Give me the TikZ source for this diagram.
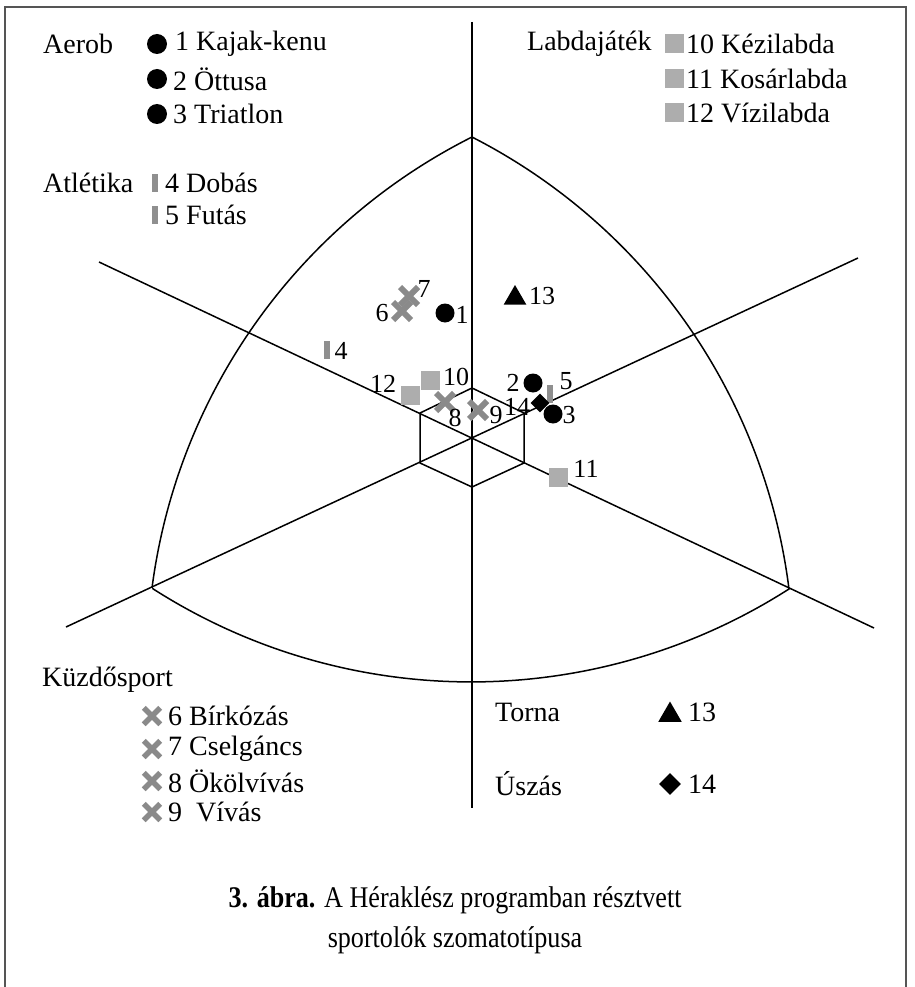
\documentclass[tikz,border=0pt]{standalone}
\usepackage{fontspec}
\setmainfont{Liberation Serif}
\usepackage{graphicx}
\usetikzlibrary{shapes.geometric,shapes.misc}
\definecolor{crossgray}{HTML}{8A8A8A}
\definecolor{bargray}{HTML}{8F8F8F}
\definecolor{sqgray}{HTML}{ADADAD}
\definecolor{framegray}{HTML}{555555}
\begin{document}
\begin{tikzpicture}[x=1pt,y=-1pt,
  lgd/.style={anchor=west, inner sep=0pt, font=\fontsize{28}{34}\selectfont},
  lbl/.style={inner sep=0pt, font=\fontsize{26}{30}\selectfont},
  dotmark/.style={circle, fill=black, minimum size=19pt, inner sep=0pt},
  sqmark/.style={rectangle, fill=sqgray, minimum size=19pt, inner sep=0pt},
  barmark/.style={rectangle, fill=bargray, minimum width=6pt, minimum height=18pt, inner sep=0pt},
  xmark/.style={cross out, draw=crossgray, line width=6pt, minimum size=12pt, inner sep=0pt},
  trimark/.style={regular polygon, regular polygon sides=3, fill=black, minimum size=26pt, inner sep=0pt},
  diamark/.style={diamond, fill=black, minimum size=19pt, inner sep=0pt},
  axis/.style={line width=1.5pt, black},
]
\fill[white] (0,0) rectangle (914,987);
\useasboundingbox (0,0) rectangle (914,987);
% frame
\draw[framegray, line width=1.1pt] (5,987) -- (5,7) -- (906,7) -- (906,987);
% coordinates
\coordinate (C) at (472,438);
\coordinate (Vt) at (472,22);
\coordinate (Vb) at (472,808);
\coordinate (ULe) at (99,262);
\coordinate (LRe) at (874,628);
\coordinate (LLe) at (66,627);
\coordinate (URe) at (858,258);
\coordinate (T) at (472,137);
\coordinate (L) at (152,588);
\coordinate (R) at (789,589);
\coordinate (H1) at (472,388);
\coordinate (H2) at (420,413);
\coordinate (H3) at (420,463);
\coordinate (H4) at (472,487);
\coordinate (H5) at (524,463);
\coordinate (H6) at (524,413);
% axes
\draw[axis] (Vt) -- (Vb);
\draw[axis] (ULe) -- (LRe);
\draw[axis] (LLe) -- (URe);
\draw[axis] (H1) -- (H2) -- (H3) -- (H4) -- (H5) -- (H6) -- cycle;
% outer curved triangle
\draw[axis] (L) arc[start angle=187.41, end angle=243.3, radius=590]
  arc[start angle=-62.94, end angle=-7.15, radius=590]
  arc[start angle=57.4, end angle=122.7, radius=590];
% data points
\node[xmark] (p7) at (409,296) {};
\node[lbl] (l7) at (424,289) {7};
\node[xmark] (p6) at (402,311) {};
\node[lbl] (l6) at (382,313) {6};
\node[dotmark] (p1) at (445,313) {};
\node[lbl] (l1) at (462,315) {1};
\node[trimark] (p13) at (515,298) {};
\node[lbl] (l13) at (542,296) {13};
\node[barmark] (p4) at (327,350) {};
\node[lbl] (l4) at (341,351) {4};
\node[sqmark] (p10) at (430,380) {};
\node[lbl] (l10) at (456,377) {10};
\node[sqmark] (p12) at (410,395) {};
\node[lbl] (l12) at (383,384) {12};
\node[xmark] (p8) at (445,402) {};
\node[lbl] (l8) at (455,418) {8};
\node[xmark] (p9) at (478,410) {};
\node[lbl] (l9) at (496,415) {9};
\node[dotmark] (p2) at (533,383) {};
\node[lbl] (l2) at (513,383) {2};
\node[barmark] (p5) at (550,394) {};
\node[lbl] (l5) at (566,381) {5};
\node[diamark] (p14) at (540,403) {};
\node[lbl] (l14) at (517,407) {14};
\node[dotmark] (p3) at (553,414) {};
\node[lbl] (l3) at (569,415) {3};
\node[sqmark] (p11) at (558,477) {};
\node[lbl] (l11) at (586,469) {11};
% legend: Aerob
\node[lgd] (aerob) at (43,44) {Aerob};
\node[dotmark, minimum size=20pt] (a1) at (157,44) {};
\node[lgd] (ta1) at (175,44) {1 Kajak-kenu};
\node[dotmark, minimum size=20pt] (a2) at (157,79) {};
\node[lgd] (ta2) at (173,79) {2 Öttusa};
\node[dotmark, minimum size=20pt] (a3) at (157,114) {};
\node[lgd] (ta3) at (173,114) {3 Triatlon};
% legend: Atletika
\node[lgd] (atl) at (43,183) {Atlétika};
\node[barmark] (b4) at (155,183) {};
\node[lgd] (tb4) at (165,183) {4 Dobás};
\node[barmark] (b5) at (155,215) {};
\node[lgd] (tb5) at (165,215) {5 Futás};
% legend: Labdajatek
\node[lgd] (labda) at (527,44) {Labdajáték};
\node[sqmark] (s10) at (674,44) {};
\node[lgd] (ts10) at (686,44) {10 Kézilabda};
\node[sqmark] (s11) at (674,79) {};
\node[lgd] (ts11) at (686,79) {11 Kosárlabda};
\node[sqmark] (s12) at (674,113) {};
\node[lgd] (ts12) at (686,113) {12 Vízilabda};
% legend: Kuzdosport
\node[lgd] (kuzd) at (42,680) {Küzdősport};
\node[xmark, minimum size=11pt, line width=5.5pt] (x6) at (152,716) {};
\node[lgd] (tx6) at (168,716) {6 Bírkózás};
\node[xmark, minimum size=11pt, line width=5.5pt] (x7) at (152,749) {};
\node[lgd] (tx7) at (168,749) {7 Cselgáncs};
\node[xmark, minimum size=11pt, line width=5.5pt] (x8) at (152,781) {};
\node[lgd] (tx8) at (168,781) {8 Ökölvívás};
\node[xmark, minimum size=11pt, line width=5.5pt] (x9) at (152,812) {};
\node[lgd] (tx9) at (168,812) {9 \ Vívás};
% legend: Torna, Uszas
\node[lgd] (torna) at (495,712) {Torna};
\node[trimark, minimum size=27pt] (tr) at (670,715) {};
\node[lgd] (ttr) at (688,712) {13};
\node[lgd] (uszas) at (495,784) {Úszás};
\node[diamark, minimum size=22pt] (di) at (670,784) {};
\node[lgd] (tdi) at (688,784) {14};
% caption
\node[align=center, font=\fontsize{30}{40}\selectfont] (cap) at (455,920)
  {\scalebox{0.87}[1]{\textbf{3. ábra.} A Héraklész programban résztvett}\\
   \scalebox{0.87}[1]{sportolók szomatotípusa}};
\end{tikzpicture}
\end{document}
